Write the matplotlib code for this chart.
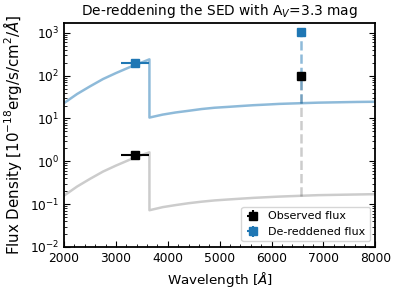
import numpy as np
import matplotlib
matplotlib.use("Agg")
import matplotlib.pyplot as plt

plt.rcParams['font.size'] = 8.8

# SED continuum (wavelength in Angstrom, flux in 1e-18 erg/s/cm2/A)
wave = [2000, 2250, 2500, 2750, 3000, 3250, 3500, 3645,
        3646, 3900, 4150, 4400, 4650, 4900, 5150, 5400, 5650, 5900,
        6150, 6400, 6650, 6900, 7150, 7400, 7650, 7900, 8000]
flux_obs = [0.158, 0.257, 0.389, 0.575, 0.794, 1.07, 1.41, 1.62,
            0.072, 0.085, 0.095, 0.105, 0.114, 0.122, 0.128, 0.134, 0.140, 0.145,
            0.150, 0.154, 0.158, 0.162, 0.164, 0.166, 0.168, 0.170, 0.170]
flux_dered = [22.9, 37.2, 56.2, 83.2, 114.8, 154.9, 204.2, 240.0,
              10.5, 12.3, 13.8, 15.1, 16.6, 17.8, 18.6, 19.5, 20.4, 21.1,
              21.9, 22.4, 22.9, 23.4, 23.7, 24.0, 24.3, 24.5, 24.5]

# photometric points: U band and H-alpha
pt_wave = [3365, 6563]
pt_werr = [273, 0]
pt_obs = [1.4, 98]
pt_dered = [195, 1070]
cont_obs_ha = 0.156
cont_dered_ha = 23.0

fig = plt.figure(figsize=(3.98, 2.94), dpi=100)
ax = fig.add_axes([0.161, 0.16, 0.782, 0.762])

ax.plot(wave, flux_dered, color='C0', alpha=0.5, lw=1.8)
ax.plot(wave, flux_obs, color='k', alpha=0.2, lw=1.8)

ax.plot([pt_wave[1], pt_wave[1]], [cont_obs_ha, pt_obs[1]], ls='--', color='k', alpha=0.2, lw=1.8)
ax.plot([pt_wave[1], pt_wave[1]], [cont_dered_ha, pt_dered[1]], ls='--', color='C0', alpha=0.5, lw=1.8)

ax.errorbar(pt_wave, pt_obs, xerr=pt_werr, yerr=[0, 0], fmt='s', color='k', ms=6, label='Observed flux')
ax.errorbar(pt_wave, pt_dered, xerr=pt_werr, yerr=[0, 0], fmt='s', color='C0', ms=6, label='De-reddened flux')

ax.set_yscale('log')
ax.set_xlim(2000, 8000)
ax.set_ylim(1e-2, 1700)
ax.set_xticks([2000, 3000, 4000, 5000, 6000, 7000, 8000])
ax.xaxis.set_minor_locator(matplotlib.ticker.MultipleLocator(200))
ax.tick_params(which='both', direction='in', right=True, top=False, labelsize=8.8)
ax.tick_params(which='major', length=4)
ax.tick_params(which='minor', length=2)
for s in ax.spines.values():
    s.set_linewidth(1.3)

ax.set_xlabel(r'Wavelength [$\AA$]', fontsize=9.7)
ax.set_ylabel(r'Flux Density [$10^{-18}$erg/s/cm$^2$/$\AA$]', fontsize=10.8)
ax.set_title(r'De-reddening the SED with A$_V$=3.3 mag', fontsize=9.9)
ax.legend(loc='lower right', fontsize=8, handlelength=1.2)

fig.savefig('out.png', dpi=100)
